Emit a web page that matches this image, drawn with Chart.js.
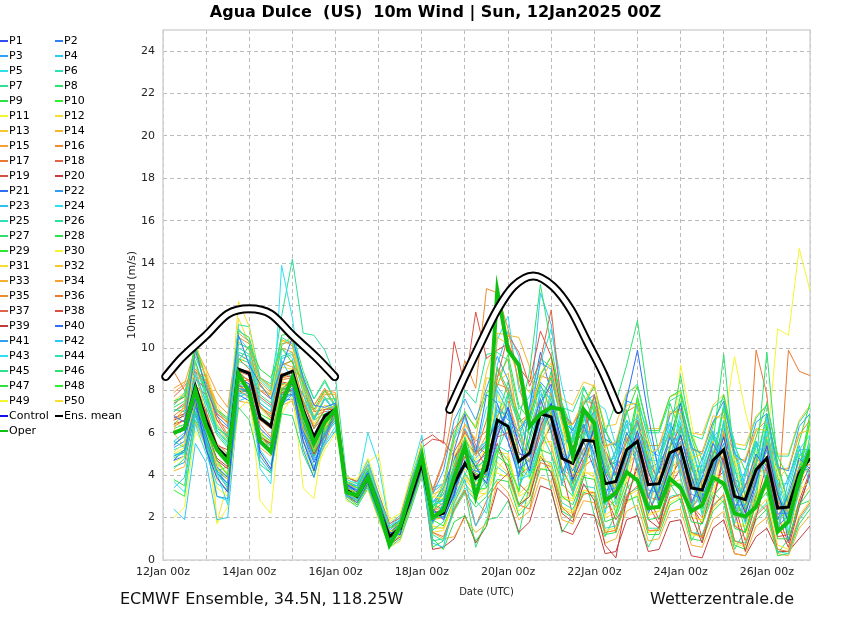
<!DOCTYPE html>
<html>
<head>
<meta charset="utf-8">
<script src="https://cdn.jsdelivr.net/npm/chart.js@4.4.1/dist/chart.umd.min.js"></script>
<style>
  body { margin: 0; background: #fff; font-family: "DejaVu Sans", sans-serif; }
  #wrap { position: relative; width: 850px; height: 620px; }
  #title { position: absolute; left: 0; width: 871px; top: 2px; text-align: center; font-size: 16px; font-weight: bold; color: #000; white-space: pre; }
  #legend { position: absolute; left: 0; top: 33px; display: grid; grid-template-columns: 55px 70px; grid-auto-rows: 15px; font-size: 11px; color: #000; }
  #legend div { white-space: nowrap; line-height: 15px; }
  #legend span { display: inline-block; width: 8px; height: 2px; vertical-align: middle; margin-right: 1px; }
  .foot { position: absolute; top: 589px; font-size: 16px; color: #111; white-space: nowrap; }
</style>
</head>
<body>
<div id="wrap">
  <canvas id="chart" width="850" height="620"></canvas>
  <div id="title">Agua Dulce  (US)  10m Wind | Sun, 12Jan2025 00Z</div>
  <div id="legend"></div>
  <div class="foot" style="left:120px">ECMWF Ensemble, 34.5N, 118.25W</div>
  <div class="foot" style="left:650px">Wetterzentrale.de</div>
</div>
<script>
// forecast hours after 12Jan2025 00Z (6-hourly)
const hours = [6,12,18,24,30,36,42,48,54,60,66,72,78,84,90,96,102,108,114,120,126,132,138,144,150,156,162,168,174,180,
  186,192,198,204,210,216,222,228,234,240,246,252,258,264,270,276,282,288,294,300,306,312,318,324,330,336,342,348,354,360];

const xTickHours = [0,24,48,72,96,120,144,168,192,216,240,264,288,312,336,360];
const xTickLabels = ['12Jan 00z','','14Jan 00z','','16Jan 00z','','18Jan 00z','','20Jan 00z','','22Jan 00z','','24Jan 00z','','26Jan 00z',''];
const yTicks = [0,2,4,6,8,10,12,14,16,18,20,22,24];

const ensMean = [6.0,6.2,8.2,6.6,5.3,4.8,9.0,8.8,6.7,6.3,8.7,8.9,7.1,5.8,6.8,
  7.1,3.3,3.0,3.85,2.45,1.1,1.5,3.0,4.55,2.05,2.2,3.6,4.55,3.85,4.25,
  6.6,6.3,4.65,5.05,6.9,6.75,4.8,4.55,5.65,5.6,3.6,3.7,5.2,5.6,3.55,
  3.6,5.05,5.3,3.4,3.3,4.7,5.2,3.0,2.85,4.25,4.8,2.45,2.5,4.1,4.8];

const oper = [6.0,6.2,8.0,6.3,5.2,4.6,8.8,7.9,5.6,5.1,7.4,8.6,6.9,5.5,6.5,
  7.1,3.2,3.05,3.9,2.5,0.7,1.6,3.3,4.9,2.0,2.35,3.9,5.35,3.0,4.8,
  12.7,9.9,9.2,6.3,6.9,7.2,7.1,4.9,7.1,6.45,2.8,3.15,4.15,3.75,2.45,
  2.5,3.85,3.4,2.3,2.6,3.9,3.6,2.2,2.05,2.5,3.8,1.35,1.8,3.8,5.2];

const control = [6.0,6.3,8.1,6.4,5.2,4.7,8.7,7.8,5.7,5.2,7.5,8.5,6.8,5.5,6.6,
  7.1,3.2,3.0,3.9,2.5,0.8,1.6,3.2,4.8,2.0,2.4,3.9,5.3,3.1,5.1,
  12.5,9.9,9.3,6.4,6.8,7.3,7.0,5.0,7.0,6.4,2.9,3.1,4.2,3.7,2.5,
  2.5,3.8,3.5,2.3,2.6,3.9,3.6,2.2,2.1,2.5,3.8,1.4,1.8,3.8,5.1];

// perturbed members P1..P50
const members = [
  [5.4,5.9,7.6,5.2,3.9,3.2,8.6,8.3,5.1,4.3,7.2,8.4,5.6,4.2,6.5, 7.0,3.6,3.2,4.1,2.8,1.3,1.2,3.4,4.9,2.4,1.9,3.1,5.2,4.4,3.6, 5.8,7.2,5.5,4.2,6.3,7.4,5.6,3.8,4.9,6.2,4.1,2.9,4.6,6.1,4.2, 2.8,4.4,5.9,3.9,2.6,4.1,5.8,3.6,2.2,3.7,5.4,3.1,1.8,3.5,5.2],
  [6.8,6.5,9.9,8.1,6.8,6.3,10.6,9.2,8.3,7.6,9.1,10.5,8.6,7.3,7.2, 7.4,3.1,2.7,3.6,2.2,0.9,1.6,2.7,4.3,1.8,2.6,5.2,6.9,5.1,7.8, 7.4,5.6,3.9,5.8,7.6,6.1,4.1,5.3,6.4,4.9,3.0,4.4,6.0,5.1,2.9, 4.3,5.8,4.6,2.7,3.9,5.5,4.6,2.4,3.5,5.0,4.2,1.9,3.1,4.8,4.3],
  [4.9,5.1,7.2,5.4,3.0,2.9,8.1,8.0,4.9,4.2,7.8,8.1,5.2,3.9,6.0, 6.6,3.4,3.3,4.2,2.6,1.2,1.4,3.2,4.7,2.3,2.0,3.3,4.4,4.2,4.0, 6.1,6.9,4.3,4.7,6.6,7.2,5.1,4.2,5.2,6.0,3.3,3.4,4.9,5.9,3.3, 3.2,4.7,5.6,3.1,2.9,4.4,5.5,2.6,2.6,3.9,5.2,2.2,2.2,3.8,5.1],
  [5.6,6.0,8.9,7.4,6.1,5.5,9.7,9.4,7.4,7.0,9.4,8.5,7.8,6.6,7.6, 7.0,3.0,2.9,3.9,2.4,1.0,1.4,2.9,4.4,0.8,0.6,2.7,3.8,1.6,2.5, 8.0,7.0,3.5,4.4,8.2,7.5,3.5,5.9,7.1,4.3,2.2,4.9,6.6,4.3,2.3, 4.9,6.4,3.9,2.1,4.6,6.1,3.9,1.7,4.2,5.6,3.5,1.2,3.8,5.4,3.5],
  [3.7,3.2,6.4,5.0,3.6,3.3,7.7,7.9,5.2,4.5,7.3,8.0,5.6,4.4,5.5, 6.3,3.8,3.6,4.5,3.0,1.6,1.9,3.7,5.2,2.8,2.6,2.9,4.0,5.2,5.6, 8.2,7.4,3.8,4.0,5.6,8.1,6.0,3.1,4.4,7.0,4.8,2.6,4.1,6.9,5.1, 2.4,3.8,6.5,4.6,2.1,3.5,6.6,4.0,1.7,3.3,6.1,3.5,1.4,3.2,5.9],
  [7.3,7.9,9.6,8.3,7.0,6.6,10.9,10.3,8.5,8.0,10.5,10.2,8.7,7.6,8.4, 7.5,3.2,2.8,3.7,2.2,0.8,1.3,2.8,4.5,1.7,2.7,4.4,3.6,3.0,3.8, 5.4,5.1,5.6,6.3,6.1,5.0,3.7,5.8,6.9,4.4,2.6,4.5,6.4,4.6,2.4, 4.6,6.1,4.2,2.5,4.2,5.9,4.1,2.1,3.9,5.5,3.7,1.6,3.3,5.2,4.0],
  [7.0,7.3,9.4,7.8,6.2,5.9,10.2,10.0,7.8,7.4,10.1,10.6,8.2,6.7,7.6, 7.6,2.9,2.5,3.4,2.0,0.6,1.0,2.4,4.0,1.4,1.8,3.2,5.3,4.6,3.4, 4.9,7.8,6.4,3.9,5.3,7.7,5.9,3.3,4.5,6.6,4.4,3.1,5.0,6.4,4.5, 3.0,4.1,6.2,4.7,2.8,4.0,6.4,4.3,2.4,3.6,5.7,3.3,1.9,3.6,5.5],
  [4.8,5.1,7.0,5.5,4.1,3.5,7.2,6.6,4.5,4.1,6.9,6.8,5.0,3.9,5.9, 7.3,3.5,3.1,4.0,2.7,1.2,1.7,3.3,5.0,2.6,2.4,3.8,5.8,4.3,4.8, 9.1,8.0,6.6,8.9,13.0,10.1,7.2,5.5,7.8,6.5,4.0,4.8,7.1,5.0,3.0, 4.2,7.4,6.0,3.6,2.4,5.2,5.8,2.9,2.0,4.6,9.8,4.4,2.7,4.9,5.3],
  [7.5,7.7,10.2,7.8,6.1,5.6,9.4,10.1,9.0,8.6,10.0,9.3,8.4,7.1,8.0, 7.2,3.0,2.6,3.5,2.1,0.7,1.2,2.6,4.2,1.0,0.5,1.8,2.1,0.9,1.6, 4.9,4.5,2.6,3.5,5.2,5.0,3.0,2.6,3.9,3.8,1.8,2.0,3.4,3.9,1.9, 2.0,3.5,3.6,1.8,1.7,3.0,3.6,1.5,1.3,2.6,3.2,1.0,1.0,2.6,3.3],
  [4.3,4.8,7.4,6.1,4.7,4.0,8.4,8.1,6.0,5.6,8.0,8.2,6.4,5.1,6.2, 6.8,3.7,3.4,4.3,2.9,1.5,1.8,3.5,5.3,2.5,2.9,4.5,5.6,4.1,3.9, 5.2,4.4,3.3,6.4,8.3,7.0,4.2,3.4,6.6,7.3,3.9,2.2,4.3,7.7,4.4, 2.6,5.3,7.8,4.0,2.2,4.4,7.2,3.4,1.3,2.9,6.4,3.2,1.2,3.9,6.6],
  [2.0,2.5,6.1,5.2,3.4,3.0,7.1,7.6,5.0,4.2,6.9,7.7,5.3,4.1,5.2, 6.0,3.9,3.8,4.8,3.4,1.9,2.2,4.0,5.5,3.0,2.9,4.9,5.9,4.7,5.2, 7.8,6.9,4.9,3.8,4.7,6.9,6.3,4.1,4.0,6.1,5.2,3.3,3.7,6.2,5.6, 3.7,3.3,5.6,5.1,3.2,3.1,5.4,4.8,2.6,2.7,5.2,4.2,2.3,2.9,5.7],
  [5.1,5.5,9.8,8.1,6.4,5.5,12.2,11.0,8.3,7.7,10.3,10.4,8.0,6.4,7.3, 7.2,3.4,3.2,4.4,2.9,1.4,1.1,2.5,4.1,1.6,1.5,2.6,3.8,3.2,3.1, 4.3,4.9,3.0,3.3,5.0,4.4,2.9,2.8,4.2,3.9,2.1,2.5,4.6,4.1,2.1, 2.3,3.9,4.3,2.2,1.8,4.0,3.9,1.8,1.6,3.2,3.4,1.6,1.9,3.3,3.7],
  [6.1,7.4,9.4,6.5,4.3,3.8,8.1,7.6,5.9,5.2,8.4,9.0,6.2,5.2,6.2, 7.3,3.3,3.1,3.8,2.4,1.0,1.6,3.1,4.8,2.9,3.6,5.5,6.4,5.7,8.6, 8.4,8.8,6.2,7.0,8.5,9.3,6.4,6.4,7.4,8.3,5.3,5.6,7.3,7.4,5.0, 5.3,7.0,6.9,4.8,5.0,6.8,6.7,4.4,4.8,6.2,6.1,3.8,4.4,6.0,6.1],
  [7.3,7.8,9.7,8.7,7.1,6.4,10.3,9.9,8.0,7.8,10.0,9.8,8.1,7.0,7.9, 7.8,3.1,2.9,3.7,2.3,0.9,1.5,2.9,4.4,1.9,2.0,3.3,4.0,3.3,4.1, 10.7,10.6,10.5,9.1,6.4,5.3,3.6,4.3,5.3,4.7,2.4,3.5,5.8,5.1,2.6, 3.8,6.0,4.4,2.3,3.4,5.6,4.4,2.0,3.1,4.9,4.0,1.5,2.9,4.7,4.1],
  [8.1,8.4,8.6,8.5,7.4,6.9,9.7,9.4,8.6,8.2,9.3,9.1,8.4,7.3,8.0, 7.9,3.6,3.4,4.0,2.6,1.3,1.8,3.2,4.7,2.3,2.5,3.9,4.9,4.2,4.4, 6.8,7.5,5.9,4.6,6.0,7.9,5.3,3.9,5.0,6.7,4.6,3.2,4.7,6.0,4.1, 3.1,4.6,5.8,4.0,2.9,4.2,6.0,3.6,2.5,3.9,5.6,3.0,2.1,3.7,5.0],
  [6.6,7.1,8.8,8.7,6.8,5.9,9.5,9.0,7.2,6.9,9.2,9.4,7.5,6.3,7.1, 7.2,3.2,2.9,3.6,2.3,0.8,1.5,3.6,5.0,3.2,4.6,7.3,9.4,8.1,12.8, 12.6,10.9,8.3,6.2,7.5,6.6,4.3,3.9,4.4,4.8,2.9,3.3,4.5,5.0,3.1, 3.9,4.4,4.6,2.6,3.7,4.5,4.9,2.4,3.6,4.1,4.3,2.1,2.9,4.4,4.5],
  [8.9,8.0,9.0,8.4,6.9,6.5,8.4,8.5,6.4,5.8,8.0,8.6,6.7,5.5,6.3, 7.4,3.0,2.7,3.5,2.1,0.8,1.4,2.7,4.2,1.3,1.1,2.4,3.3,1.6,2.8, 3.6,4.1,2.6,2.4,4.6,4.4,2.5,2.0,3.1,3.2,1.3,1.4,3.0,3.5,1.4, 1.4,2.9,3.1,1.3,1.1,2.5,3.1,0.9,0.7,2.1,2.6,0.5,0.4,2.0,2.7],
  [7.7,8.2,8.9,8.3,6.6,5.8,9.0,8.9,7.3,6.7,8.8,8.6,7.4,6.2,6.8, 7.0,3.9,3.7,4.5,3.1,1.7,2.0,3.8,5.1,3.3,4.7,6.2,6.8,5.4,5.0, 8.6,10.6,9.8,8.2,9.4,11.8,7.1,5.3,6.1,7.8,5.2,4.1,5.6,6.6,4.7, 3.7,5.3,6.3,4.3,3.4,5.0,5.9,3.7,2.8,4.3,5.3,2.6,2.3,3.8,5.0],
  [6.4,6.6,8.3,7.0,5.4,5.2,8.9,8.7,6.6,6.4,8.6,8.7,7.0,5.9,6.7, 7.0,3.4,3.2,3.8,2.5,1.2,1.6,3.1,5.6,5.9,5.5,10.3,8.2,11.7,9.5, 9.9,10.2,9.1,8.4,10.8,9.6,6.9,6.4,7.2,5.4,3.1,1.9,2.7,4.6,3.0, 1.9,3.5,4.3,2.6,1.7,3.6,4.2,1.6,1.3,3.1,3.6,1.1,1.2,3.4,4.4],
  [6.7,6.9,7.4,6.2,4.7,4.3,8.3,7.8,5.8,5.5,7.9,8.0,6.3,5.0,5.9, 7.1,3.3,3.1,3.9,2.6,1.1,1.5,3.1,4.7,2.2,2.4,3.7,4.9,4.0,4.1, 5.5,4.2,2.6,3.0,4.9,4.1,2.2,1.8,3.6,2.8,0.7,0.1,2.9,4.4,1.9, 1.5,3.9,4.7,2.1,0.8,2.7,4.8,2.3,0.4,2.0,4.0,1.7,0.6,2.5,4.1],
  [4.7,5.2,7.3,5.9,4.4,3.9,8.2,8.2,6.2,5.7,8.0,8.3,6.5,5.2,6.2, 6.7,3.5,3.3,4.1,2.7,1.3,1.7,3.3,4.6,2.4,2.0,3.0,4.7,3.5,4.0, 6.2,7.1,5.0,4.9,7.4,8.3,4.9,3.7,6.3,7.0,5.1,4.0,7.6,9.9,6.8, 4.1,5.8,7.4,4.4,2.8,4.3,6.5,3.1,1.8,3.6,6.3,3.3,0.9,2.6,4.0],
  [5.3,5.6,7.8,5.6,4.2,3.6,8.1,7.9,5.9,5.2,7.6,7.8,6.1,4.7,5.6, 7.1,3.3,3.1,3.8,2.4,1.1,1.5,3.0,4.5,3.1,4.2,6.6,7.6,6.6,8.1, 9.6,8.5,6.2,6.8,9.3,9.0,6.6,6.1,7.4,7.8,5.7,5.4,7.5,7.3,5.2, 4.9,6.8,7.4,5.3,5.0,6.5,7.5,5.0,4.6,6.5,6.9,4.4,4.2,6.3,6.9],
  [3.4,3.9,6.8,5.3,4.1,3.4,7.9,7.7,5.5,5.0,7.6,7.9,6.1,4.8,5.9, 6.5,3.6,3.5,4.4,2.9,1.4,1.9,3.4,5.0,2.7,3.1,4.1,5.1,4.8,5.4, 7.1,6.3,5.8,7.2,8.0,6.3,5.2,6.2,6.8,5.0,4.1,5.1,6.6,5.8,4.6, 5.3,6.5,5.2,3.5,4.8,6.0,5.0,3.1,4.2,5.6,4.7,2.8,3.9,5.2,5.2],
  [5.0,5.0,7.0,6.0,3.0,2.8,10.5,9.9,5.5,5.4,13.9,11.4,8.0,5.7,6.8, 7.6,3.7,3.4,6.0,4.5,1.6,2.0,4.0,5.9,2.6,2.8,3.9,4.5,3.8,4.6, 10.4,11.5,8.0,7.1,9.3,10.9,8.2,6.1,5.6,7.5,7.1,5.4,5.1,7.4,6.0, 4.3,4.6,7.0,5.2,3.8,4.9,7.3,5.6,3.2,3.6,6.7,4.3,2.0,3.5,5.2],
  [5.5,5.8,8.7,7.5,6.0,5.4,9.8,9.6,7.4,7.0,9.5,9.7,7.9,6.6,7.6, 7.0,3.2,3.0,3.8,2.4,1.0,1.4,2.9,4.6,1.2,0.9,2.5,3.4,2.8,2.2, 4.4,4.0,2.5,3.0,4.7,4.6,2.7,2.4,3.5,3.4,1.5,1.6,3.1,3.4,1.5, 1.5,3.0,3.1,1.3,1.2,2.6,3.0,0.9,0.8,2.2,2.7,0.4,0.3,1.9,2.6],
  [6.2,6.4,9.3,7.9,6.4,5.7,11.1,11.0,8.6,8.3,11.5,14.2,10.7,10.6,9.9, 8.6,4.0,3.6,4.2,2.8,1.4,1.9,3.4,5.2,2.5,3.3,5.7,8.0,7.4,9.7, 9.8,9.4,7.1,7.7,9.5,9.1,7.2,7.0,8.2,7.0,4.1,5.2,7.8,8.3,6.0, 6.0,7.5,7.8,5.9,5.7,7.2,7.6,5.3,5.2,6.7,7.3,4.9,4.9,6.5,7.2],
  [5.9,6.3,8.1,6.7,5.4,4.9,8.9,8.8,6.8,6.4,8.6,8.9,7.2,5.8,6.8, 7.1,3.3,2.9,3.8,2.4,1.0,1.4,2.9,4.6,2.0,2.0,3.4,4.5,3.7,4.1, 6.3,7.9,6.8,5.9,7.6,8.6,6.5,5.6,8.1,7.3,6.0,7.4,9.2,11.3,7.6, 5.0,6.0,8.7,5.8,4.1,5.5,9.7,4.6,3.0,4.6,6.9,3.9,2.6,4.4,6.5],
  [7.2,7.5,10.1,8.6,7.1,6.7,10.8,10.5,8.6,8.1,10.6,10.7,8.9,7.6,8.5, 7.5,3.1,2.8,3.6,2.2,0.9,1.3,2.7,4.3,0.6,0.9,2.3,3.2,2.5,3.0, 3.8,3.7,2.1,2.7,4.3,4.2,2.3,2.0,3.2,3.0,1.2,1.3,2.8,3.0,1.2, 1.2,2.6,2.9,1.0,0.9,2.3,2.8,0.7,0.5,1.9,2.4,0.2,0.3,1.7,2.4],
  [3.8,3.5,7.0,5.7,4.3,3.9,7.8,8.2,5.9,5.4,8.1,8.4,6.3,4.9,6.1, 6.6,3.5,3.3,4.2,2.8,1.3,1.7,3.4,5.0,2.4,3.6,6.0,7.0,6.2,7.9, 8.2,9.7,7.3,6.6,8.7,9.6,7.4,6.1,7.3,8.2,6.1,5.2,6.9,8.2,6.1, 6.1,7.7,8.0,5.9,4.7,6.3,7.8,5.4,4.2,5.8,7.4,4.9,3.8,5.6,7.4],
  [4.6,4.9,7.1,6.0,4.5,4.1,8.0,8.3,6.1,5.5,8.2,8.5,6.6,5.2,6.3, 6.9,3.4,3.1,4.0,2.6,1.2,1.6,3.1,4.6,2.2,2.2,3.5,4.3,3.6,4.0, 4.1,3.9,2.3,2.8,4.3,4.4,2.5,2.3,3.3,3.2,1.3,1.4,2.7,3.1,1.3, 1.4,2.7,3.0,1.2,1.1,2.4,2.9,0.8,0.6,4.8,5.3,10.9,10.6,14.7,12.7],
  [7.5,7.9,9.9,8.9,7.3,6.5,9.3,9.7,7.2,6.9,9.1,9.0,7.6,6.8,7.6, 7.6,2.8,2.6,3.3,1.9,0.6,0.9,2.5,4.0,1.3,1.4,2.7,3.6,2.8,3.2, 4.6,4.1,2.6,3.1,4.8,4.5,2.4,2.2,3.3,3.1,1.4,1.5,3.0,3.3,1.3, 1.5,2.9,3.1,1.2,1.1,2.6,3.1,0.9,0.8,2.3,2.9,0.7,0.5,2.1,2.8],
  [6.0,5.3,7.5,5.9,4.6,4.0,8.2,7.9,6.0,5.5,7.9,8.1,6.3,5.0,5.9, 7.2,3.3,3.0,3.9,2.5,1.1,1.5,3.0,4.6,3.1,3.3,5.8,6.9,6.3,8.9, 10.5,10.2,8.5,7.9,8.8,9.6,7.6,7.3,8.4,8.2,6.3,6.4,7.9,8.2,6.2, 6.2,7.7,7.9,6.0,5.9,7.3,7.8,5.5,5.4,6.8,7.3,5.0,5.0,6.6,7.3],
  [4.2,4.4,6.5,5.3,3.8,3.3,7.5,7.4,5.3,4.9,7.3,7.5,5.7,4.4,5.4, 6.9,3.4,3.2,4.1,2.7,1.3,1.7,3.2,4.8,1.3,1.0,1.1,2.0,1.3,1.7, 3.7,3.2,1.9,2.3,3.9,3.7,1.9,1.7,2.8,2.7,0.8,1.0,2.3,2.6,0.9, 1.0,2.3,2.4,0.7,0.6,1.9,2.3,0.3,0.2,1.6,2.0,0.3,0.2,1.5,2.1],
  [7.9,8.3,10.0,9.0,7.9,7.2,10.7,10.3,8.4,7.9,10.4,10.1,8.3,7.0,7.8, 7.8,3.3,3.0,3.6,2.2,0.9,1.3,2.6,4.1,1.8,2.2,3.9,5.7,4.9,5.9, 8.6,9.5,6.2,4.9,6.2,8.7,6.6,3.8,4.5,7.2,4.9,2.9,4.2,6.9,5.0, 2.5,3.8,6.3,4.7,2.5,3.5,6.1,3.9,1.9,3.3,5.8,3.4,1.8,3.4,5.7],
  [6.8,7.2,9.9,8.6,7.1,6.6,10.5,10.2,8.2,7.8,10.2,10.3,8.5,7.3,8.1, 7.3,3.2,2.9,3.8,2.3,1.0,1.4,2.8,4.4,2.5,3.1,4.4,6.4,5.6,6.1, 8.3,8.1,6.5,6.9,8.7,8.5,6.6,6.4,7.5,7.4,5.4,5.5,7.0,7.3,5.4, 5.4,6.9,7.1,5.2,5.1,6.5,7.0,4.8,4.7,6.1,6.6,4.3,4.3,5.9,6.6],
  [6.3,6.6,8.0,6.9,5.5,5.0,8.7,8.5,6.6,6.2,8.5,8.6,6.9,5.7,6.6, 7.0,3.3,3.0,3.9,2.5,1.1,1.5,3.0,4.5,2.0,2.4,4.2,6.1,5.0,6.6, 9.0,7.8,5.1,4.6,6.2,6.9,4.4,3.2,4.6,5.9,3.0,2.5,4.3,5.8,3.0, 2.8,4.7,5.5,2.6,2.0,3.9,5.2,2.2,2.1,9.9,7.8,2.5,9.9,8.9,8.7],
  [7.0,7.4,8.2,7.8,6.6,6.2,8.6,8.1,7.7,7.3,8.3,8.2,7.8,6.8,7.0, 7.0,3.5,3.3,4.0,2.6,1.2,1.6,3.2,4.7,2.3,2.7,5.1,6.0,5.3,4.3, 5.8,6.0,4.0,4.4,5.9,7.0,5.0,3.6,4.7,5.8,4.3,3.1,4.6,5.8,3.9, 2.9,4.4,5.4,3.7,2.6,4.1,5.3,3.2,2.3,3.8,4.9,2.8,1.9,3.6,4.8],
  [7.4,7.7,8.5,8.1,6.9,6.5,8.9,8.4,8.0,7.6,8.4,8.3,7.9,7.0,7.1, 7.1,3.9,3.7,4.3,2.9,1.5,1.9,3.5,5.3,5.7,5.6,4.9,5.4,4.4,5.2, 5.9,7.2,3.6,3.1,5.3,6.4,4.2,2.1,3.9,6.5,3.4,1.3,3.4,5.4,2.6, 1.7,3.3,5.4,2.9,1.0,2.8,5.0,2.6,0.9,2.7,4.5,2.1,0.8,2.8,4.2],
  [6.6,6.8,7.2,6.1,4.8,4.4,8.0,7.7,5.8,5.4,7.8,7.8,6.1,4.9,5.8, 7.1,3.1,2.8,3.5,2.0,0.7,1.1,2.6,4.3,0.5,0.6,1.0,2.1,0.8,1.6, 3.4,2.9,1.3,1.8,3.5,3.3,1.4,1.2,2.2,2.1,0.3,0.4,1.9,2.1,0.4, 0.5,1.8,1.9,0.2,0.1,1.5,1.9,0.3,0.2,1.1,1.5,0.4,0.4,1.0,1.6],
  [4.7,4.9,6.9,5.5,4.1,3.6,7.8,7.5,5.5,5.1,7.5,7.6,5.9,4.6,5.6, 7.1,3.6,3.3,4.1,2.8,1.3,1.7,3.4,4.7,2.7,3.4,4.8,5.6,5.0,5.5, 6.6,5.6,4.0,7.3,9.8,7.9,5.0,3.9,5.6,4.3,2.9,3.6,5.8,4.5,2.2, 3.3,6.1,4.9,2.5,3.0,5.5,4.6,2.2,2.5,5.0,4.4,1.6,2.1,4.4,4.2],
  [4.4,4.6,7.0,5.7,4.2,3.8,8.0,7.9,5.9,5.4,7.9,8.0,6.3,5.0,6.0, 6.8,3.7,3.5,4.4,3.0,1.5,1.9,3.6,5.1,2.6,2.8,4.3,5.4,4.6,5.0, 7.3,6.6,6.1,6.7,8.4,7.8,5.9,5.3,6.1,6.0,4.4,4.6,5.6,6.5,4.3, 4.6,5.4,5.9,4.3,4.1,5.0,5.9,3.8,3.5,4.6,5.6,2.7,2.6,4.2,5.6],
  [2.4,1.9,5.5,4.6,1.9,2.0,7.5,7.7,4.7,4.1,7.3,7.8,5.3,4.3,5.4, 6.1,3.9,3.7,4.7,3.1,1.7,2.1,3.9,5.4,3.2,3.6,4.7,6.2,5.1,5.6, 9.2,10.8,9.6,6.8,12.6,11.1,7.3,5.9,4.9,5.5,6.2,4.7,4.5,5.6,5.4, 3.3,4.2,6.1,5.5,3.5,4.0,5.9,5.2,3.4,3.9,5.8,3.7,2.7,3.8,5.0],
  [5.2,5.4,8.3,6.7,4.1,2.6,9.4,9.1,4.3,3.6,10.0,9.5,6.1,4.1,6.5, 7.4,3.6,3.4,4.5,3.1,1.5,1.8,3.4,4.9,3.4,3.6,5.7,6.7,5.0,7.2, 7.5,7.2,5.8,6.2,7.8,7.7,5.9,5.7,6.8,6.7,4.7,4.8,6.3,6.7,4.7, 4.7,6.2,6.4,4.5,4.4,5.8,6.3,4.1,4.0,5.4,5.9,3.6,3.6,5.2,5.9],
  [7.1,7.0,9.3,7.6,6.3,5.8,10.0,9.7,7.6,7.2,9.6,9.8,8.0,6.7,7.7, 7.0,3.3,3.0,3.9,2.5,1.1,1.5,3.0,4.6,2.1,2.2,3.6,4.6,3.9,4.3, 7.0,6.9,5.9,4.1,5.5,6.3,5.7,5.4,4.6,5.1,4.8,4.5,4.9,5.9,4.6, 3.1,4.7,6.7,4.9,3.0,4.2,6.0,4.4,2.5,3.8,5.5,3.6,2.2,3.7,5.4],
  [5.6,5.3,7.5,5.8,4.5,4.1,8.3,8.3,5.8,5.5,8.3,8.4,6.4,5.0,6.3, 6.8,3.6,3.4,4.3,2.9,1.4,1.8,3.5,5.1,2.6,2.9,4.4,5.5,4.4,4.7, 5.1,6.4,4.4,3.9,6.0,7.2,5.6,3.9,4.3,6.2,5.0,3.4,4.5,6.5,4.8, 2.8,4.3,6.3,4.5,2.5,4.1,6.0,3.9,2.3,3.8,5.9,3.4,1.7,3.4,5.8],
  [6.4,6.9,8.7,7.2,5.9,5.3,9.5,9.3,7.2,6.8,9.2,9.4,7.5,6.2,7.1, 7.3,3.2,2.8,3.7,2.3,0.9,1.3,2.8,4.4,0.9,1.0,2.4,3.3,0.6,1.9, 2.0,2.8,1.2,3.6,5.4,3.3,1.3,2.1,4.2,2.1,1.1,2.2,3.7,2.1,0.6, 1.6,3.6,2.8,0.9,1.8,3.2,2.7,0.5,1.4,2.8,2.3,0.3,1.0,2.6,2.8],
  [4.9,5.2,7.2,5.6,4.3,3.8,8.1,7.9,5.8,5.4,7.8,8.0,6.2,4.9,5.9, 7.2,3.4,3.1,4.0,2.6,1.2,1.6,3.1,4.7,2.2,3.3,4.7,5.7,5.0,5.4, 6.7,8.4,6.8,5.2,7.0,8.9,6.9,4.7,5.8,7.7,5.7,3.8,5.3,7.7,5.7, 3.7,5.2,7.4,5.5,3.4,4.8,7.3,5.1,3.0,4.4,6.9,4.6,2.6,4.2,6.9],
  [3.3,3.0,6.6,5.5,4.2,4.4,8.6,8.0,6.9,6.6,8.1,8.0,7.5,6.6,6.9, 7.0,3.0,2.7,3.7,2.2,0.8,1.3,2.8,4.4,1.9,1.6,2.9,4.1,3.3,3.4, 5.3,4.7,3.2,5.6,7.2,6.0,3.6,3.0,6.0,5.5,2.4,2.8,6.0,5.1,2.3, 3.4,5.9,5.0,2.4,3.3,5.9,4.6,2.2,2.9,5.4,4.4,1.9,2.5,5.0,4.6],
  [5.0,5.3,6.6,6.3,1.7,2.5,7.6,8.0,2.8,2.2,7.4,8.1,3.4,2.9,6.1, 7.0,3.7,3.6,4.6,5.0,1.8,2.1,3.5,5.2,2.4,2.7,3.6,5.3,4.3,4.6, 7.9,6.0,4.4,4.2,6.0,7.7,6.5,4.7,5.0,7.3,4.8,2.7,4.9,7.0,5.3, 3.0,4.1,9.2,6.5,3.6,3.9,6.3,9.6,7.0,5.1,4.6,2.4,2.2,3.9,6.4],
  [6.5,6.2,10.4,8.4,1.8,3.6,11.4,10.2,7.2,6.6,10.4,10.1,7.9,6.7,7.3, 7.0,3.0,2.8,3.6,2.1,0.7,1.1,2.5,4.1,1.5,1.5,2.8,3.9,3.1,3.4, 5.1,5.0,3.1,3.6,5.5,5.6,3.0,2.9,4.1,4.1,2.0,2.2,3.9,4.0,2.2, 2.3,3.6,3.8,2.0,1.9,3.4,3.8,1.6,1.6,3.0,3.4,1.3,1.3,2.8,3.5]
];

const memberColors = ['#2f4ff5','#2f7ff5','#2f9ff5','#2fc8f0','#2fe0e8','#2fe0b0','#2fe090','#2fe070','#2fe040','#2ff02f',
  '#f5f52f','#f5e02f','#f5c82f','#f5b42f','#f5a02f','#eb8c2f','#eb7830','#e06448','#d85040','#c83c3c',
  '#2f6ff5','#2f9ff5','#2fbff0','#2fe0f0','#2fe0b8','#2fe098','#2fe070','#2fe050','#2fe830','#f5f52f',
  '#f5e030','#f5c830','#f5b030','#f5a030','#eb8c30','#eb7830','#e06450','#d85040','#c03c3c','#2f6ff5',
  '#2f9ff5','#2fc8f5','#2fe0f0','#2fe0b0','#2fe090','#2fe070','#2fe040','#2ff02f','#f5f52f','#f5e030'];

// the two tube-shaped arcs (hours, m/s)
const arc1Hours = [1.5,10,24,36,48,60,72,86,95.5];
const arc1Values = [8.65,9.5,10.6,11.6,11.85,11.6,10.6,9.5,8.65];
const arc2Hours = [159.5,167,176,186,195,206,217,227,236,245,253.5];
const arc2Values = [7.1,8.5,10.1,11.8,12.9,13.4,12.9,11.8,10.3,8.8,7.1];

const font = 'DejaVu Sans';
const pts = (xs, ys) => ys.map((v, i) => ({ x: xs[i], y: v }));

const datasets = [];
[[arc1Hours, arc1Values], [arc2Hours, arc2Values]].forEach(([xs, ys]) => {
  datasets.push({ label: 'arc', data: pts(xs, ys), borderColor: '#fff', borderWidth: 5, cubicInterpolationMode: 'monotone', borderCapStyle: 'round', pointRadius: 0, order: 0, clip: false });
  datasets.push({ label: 'arc', data: pts(xs, ys), borderColor: '#000', borderWidth: 9, cubicInterpolationMode: 'monotone', borderCapStyle: 'round', pointRadius: 0, order: 1, clip: false });
});
datasets.push({ label: 'Oper', data: pts(hours, oper), borderColor: '#10c010', borderWidth: 4, pointRadius: 0, order: 2 });
datasets.push({ label: 'Ens. mean', data: pts(hours, ensMean), borderColor: '#000', borderWidth: 3, pointRadius: 0, order: 3 });
datasets.push({ label: 'Control', data: pts(hours, control), borderColor: '#1010f0', borderWidth: 1, pointRadius: 0, order: 4 });
members.forEach((m, i) => {
  datasets.push({ label: 'P' + (i + 1), data: pts(hours, m), borderColor: memberColors[i], borderWidth: 1, pointRadius: 0, order: 5 });
});

// light frame around the plot
const frame = {
  id: 'frame',
  beforeDatasetsDraw(chart) {
    const { ctx, chartArea: a } = chart;
    ctx.save();
    ctx.strokeStyle = '#d4d4d4';
    ctx.lineWidth = 1.5;
    ctx.strokeRect(a.left, a.top, a.right - a.left, a.bottom - a.top);
    ctx.restore();
  }
};

new Chart(document.getElementById('chart'), {
  type: 'line',
  data: { datasets },
  options: {
    responsive: false,
    animation: false,
    layout: { padding: { left: 120, right: 40, top: 30, bottom: 20 } },
    plugins: {
      legend: { display: false },
      tooltip: { enabled: false },
      title: { display: false }
    },
    scales: {
      x: {
        type: 'linear', min: 0, max: 360,
        afterBuildTicks: s => { s.ticks = xTickHours.map(v => ({ value: v })); },
        afterFit: s => { s.height = 40; },
        ticks: {
          callback: (v, i) => xTickLabels[i],
          autoSkip: false, maxRotation: 0, padding: 6,
          color: '#222', font: { family: font, size: 11 }
        },
        grid: { color: '#bbb', lineWidth: 1, drawTicks: false },
        border: { display: false, dash: [4, 3] },
        title: { display: true, text: 'Date (UTC)', color: '#222', font: { family: font, size: 10 }, padding: { top: 0, bottom: 2 } }
      },
      y: {
        min: 0, max: 25,
        afterBuildTicks: s => { s.ticks = yTicks.map(v => ({ value: v })); },
        afterFit: s => { s.width = 43; },
        ticks: { padding: 8, color: '#222', font: { family: font, size: 11 } },
        grid: { color: '#bbb', lineWidth: 1, drawTicks: false },
        border: { display: false, dash: [4, 3] },
        title: { display: true, text: '10m Wind (m/s)', color: '#222', font: { family: font, size: 11 }, padding: { top: 6 } }
      }
    }
  },
  plugins: [frame]
});

// legend, two columns like the original
const legendItems = members.map((m, i) => ['P' + (i + 1), memberColors[i]])
  .concat([['Control', '#1010f0'], ['Ens. mean', '#000'], ['Oper', '#10c010']]);
const lg = document.getElementById('legend');
legendItems.forEach(([name, col]) => {
  const d = document.createElement('div');
  d.innerHTML = '<span style="background:' + col + '"></span>' + name;
  lg.appendChild(d);
});
</script>
